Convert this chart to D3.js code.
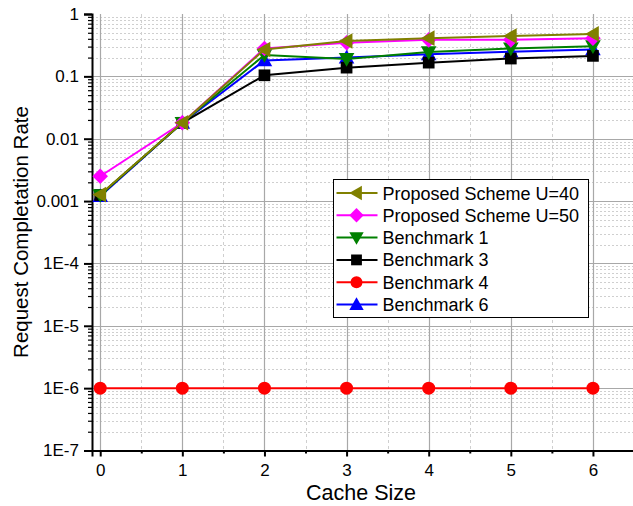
<!DOCTYPE html>
<html>
<head>
<meta charset="utf-8">
<script src="https://cdn.jsdelivr.net/npm/d3@7"></script>
<style>
  body { margin: 0; background: #fff; }
  svg { display: block; font-family: "Liberation Sans", Arial, sans-serif; }
</style>
</head>
<body>
<svg id="chart" width="633" height="506"></svg>
<script>
// Cache sizes on the x axis
const cacheSizes = [0, 1, 2, 3, 4, 5, 6];

// Request completion rate per scheme
const proposedU40 = [0.00127, 0.018, 0.27, 0.37, 0.41, 0.445, 0.48];
const proposedU50 = [0.0025, 0.018, 0.28, 0.345, 0.385, 0.385, 0.41];
const benchmark1  = [0.00125, 0.018, 0.22, 0.19, 0.245, 0.28, 0.305];
const benchmark3  = [0.00125, 0.018, 0.104, 0.138, 0.166, 0.193, 0.213];
const benchmark4  = [1e-6, 1e-6, 1e-6, 1e-6, 1e-6, 1e-6, 1e-6];
const benchmark6  = [0.0012, 0.018, 0.18, 0.2, 0.226, 0.248, 0.27];

const seriesNames = ["Proposed Scheme U=40", "Proposed Scheme U=50", "Benchmark 1",
                     "Benchmark 3", "Benchmark 4", "Benchmark 6"];
const seriesColors = ["#808000", "#ff00ff", "#008000", "#000000", "#ff0000", "#0000ff"];
const seriesSymbols = ["triLeft", "diamond", "triDown", "square", "circle", "triUp"];
const seriesValues = [proposedU40, proposedU50, benchmark1, benchmark3, benchmark4, benchmark6];

const yTickLabels = ["1E-7", "1E-6", "1E-5", "1E-4", "0.001", "0.01", "0.1", "1"];
const yTickValues = [1e-7, 1e-6, 1e-5, 1e-4, 1e-3, 1e-2, 1e-1, 1];

const svg = d3.select("#chart");
const plotLeft = 92, plotTop = 14, plotBottom = 450.5, plotRight = 634;

const x = d3.scaleLinear().domain([-0.1, 6.5]).range([plotLeft, plotRight]);
const y = d3.scaleLog().domain([1e-7, 1]).range([plotBottom, plotTop]);

// Grid: minor lines first, then major
const minorY = [];
for (let e = -7; e < 0; e++) for (let m = 2; m <= 9; m++) minorY.push(m * Math.pow(10, e));
const minorX = d3.range(0.5, 6.6, 1);

const grid = svg.append("g");
grid.selectAll(".gmy").data(minorY).join("line")
  .attr("x1", plotLeft).attr("x2", plotRight)
  .attr("y1", d => Math.round(y(d)) + 0.5).attr("y2", d => Math.round(y(d)) + 0.5)
  .attr("stroke", "#cfcfcf").attr("stroke-width", 1).attr("stroke-dasharray", "2,2");
grid.selectAll(".gmx").data(minorX).join("line")
  .attr("x1", d => Math.round(x(d)) + 0.5).attr("x2", d => Math.round(x(d)) + 0.5)
  .attr("y1", plotTop).attr("y2", plotBottom)
  .attr("stroke", "#cfcfcf").attr("stroke-width", 1).attr("stroke-dasharray", "3,3");
grid.selectAll(".gy").data(yTickValues.slice(1, 7)).join("line")
  .attr("x1", plotLeft).attr("x2", plotRight)
  .attr("y1", d => Math.round(y(d)) + 0.5).attr("y2", d => Math.round(y(d)) + 0.5)
  .attr("stroke", "#a8a8a8").attr("stroke-width", 1.2);
grid.selectAll(".gx").data(cacheSizes).join("line")
  .attr("x1", d => Math.round(x(d)) + 0.5).attr("x2", d => Math.round(x(d)) + 0.5)
  .attr("y1", plotTop).attr("y2", plotBottom)
  .attr("stroke", "#a8a8a8").attr("stroke-width", 1.2);

// Axes
const xAxis = d3.axisBottom(x).tickValues(cacheSizes).tickFormat(d3.format("d"))
  .tickSize(6).tickPadding(7);
const gx = svg.append("g").attr("transform", `translate(0,${plotBottom})`).call(xAxis);
gx.select(".domain").attr("stroke", "#000").attr("stroke-width", 2);
gx.selectAll(".tick line").attr("stroke", "#000").attr("stroke-width", 2);
gx.selectAll(".tick text").attr("font-size", 17).attr("fill", "#000")
  .attr("font-family", "Liberation Sans, Arial, sans-serif");
svg.append("g").attr("transform", `translate(0,${plotBottom})`)
  .call(d3.axisBottom(x).tickValues(minorX).tickFormat("").tickSize(3))
  .call(g => g.select(".domain").remove())
  .selectAll(".tick line").attr("stroke", "#000").attr("stroke-width", 2);

const yAxis = d3.axisLeft(y).tickValues(yTickValues)
  .tickFormat((d, i) => yTickLabels[i]).tickSize(8).tickPadding(5);
const gy = svg.append("g").attr("transform", `translate(${plotLeft},0)`).call(yAxis);
gy.select(".domain").attr("stroke", "#000").attr("stroke-width", 2);
gy.selectAll(".tick line").attr("stroke", "#000").attr("stroke-width", 2);
gy.selectAll(".tick text").attr("font-size", 17).attr("fill", "#000")
  .attr("font-family", "Liberation Sans, Arial, sans-serif");
svg.append("g").attr("transform", `translate(${plotLeft},0)`)
  .call(d3.axisLeft(y).tickValues(minorY).tickFormat("").tickSize(4))
  .call(g => g.select(".domain").remove())
  .selectAll(".tick line").attr("stroke", "#000").attr("stroke-width", 1.2);

// Axis titles
svg.append("text").attr("x", 361).attr("y", 500).attr("text-anchor", "middle")
  .attr("font-size", 21.5).text("Cache Size");
svg.append("text").attr("transform", "translate(28,232) rotate(-90)")
  .attr("text-anchor", "middle").attr("font-size", 20.5).text("Request Completation Rate");

// Marker shapes
function marker(sel, kind, color, s) {
  if (kind === "circle") {
    return sel.append("circle").attr("r", s * 0.5).attr("fill", color);
  }
  if (kind === "square") {
    return sel.append("rect").attr("x", -s * 0.45).attr("y", -s * 0.45)
      .attr("width", s * 0.9).attr("height", s * 0.9).attr("fill", color);
  }
  let pts;
  const h = s * 0.6;
  if (kind === "diamond") pts = [[0, -h], [h, 0], [0, h], [-h, 0]];
  if (kind === "triUp") pts = [[0, -h], [h, h * 0.75], [-h, h * 0.75]];
  if (kind === "triDown") pts = [[0, h], [h, -h * 0.75], [-h, -h * 0.75]];
  if (kind === "triLeft") pts = [[-h, 0], [h * 0.75, -h], [h * 0.75, h]];
  return sel.append("polygon").attr("points", pts.map(p => p.join(",")).join(" "))
    .attr("fill", color);
}

// Series, drawn last-to-first so the proposed schemes sit on top
const line = d3.line().x((d, i) => x(cacheSizes[i])).y(d => y(d));
const plot = svg.append("g");
for (let k = seriesValues.length - 1; k >= 0; k--) {
  const g = plot.append("g");
  g.append("path").datum(seriesValues[k]).attr("d", line)
    .attr("fill", "none").attr("stroke", seriesColors[k]).attr("stroke-width", 2);
  seriesValues[k].forEach((v, i) => {
    const m = g.append("g").attr("transform", `translate(${x(cacheSizes[i])},${y(v)})`);
    marker(m, seriesSymbols[k], seriesColors[k], 13);
  });
}

// Legend
const lg = svg.append("g").attr("transform", "translate(333.5,179.5)");
lg.append("rect").attr("width", 255).attr("height", 138)
  .attr("fill", "#fff").attr("stroke", "#000").attr("stroke-width", 1);
seriesNames.forEach((name, k) => {
  const ry = 13.5 + k * 22.3;
  const row = lg.append("g").attr("transform", `translate(0,${ry})`);
  row.append("line").attr("x1", 3).attr("x2", 44).attr("y1", 0).attr("y2", 0)
    .attr("stroke", seriesColors[k]).attr("stroke-width", 2);
  const m = row.append("g").attr("transform", "translate(23,0)");
  marker(m, seriesSymbols[k], seriesColors[k], 12);
  row.append("text").attr("x", 49).attr("y", 6.5).attr("font-size", 18).text(name);
});
</script>
</body>
</html>
